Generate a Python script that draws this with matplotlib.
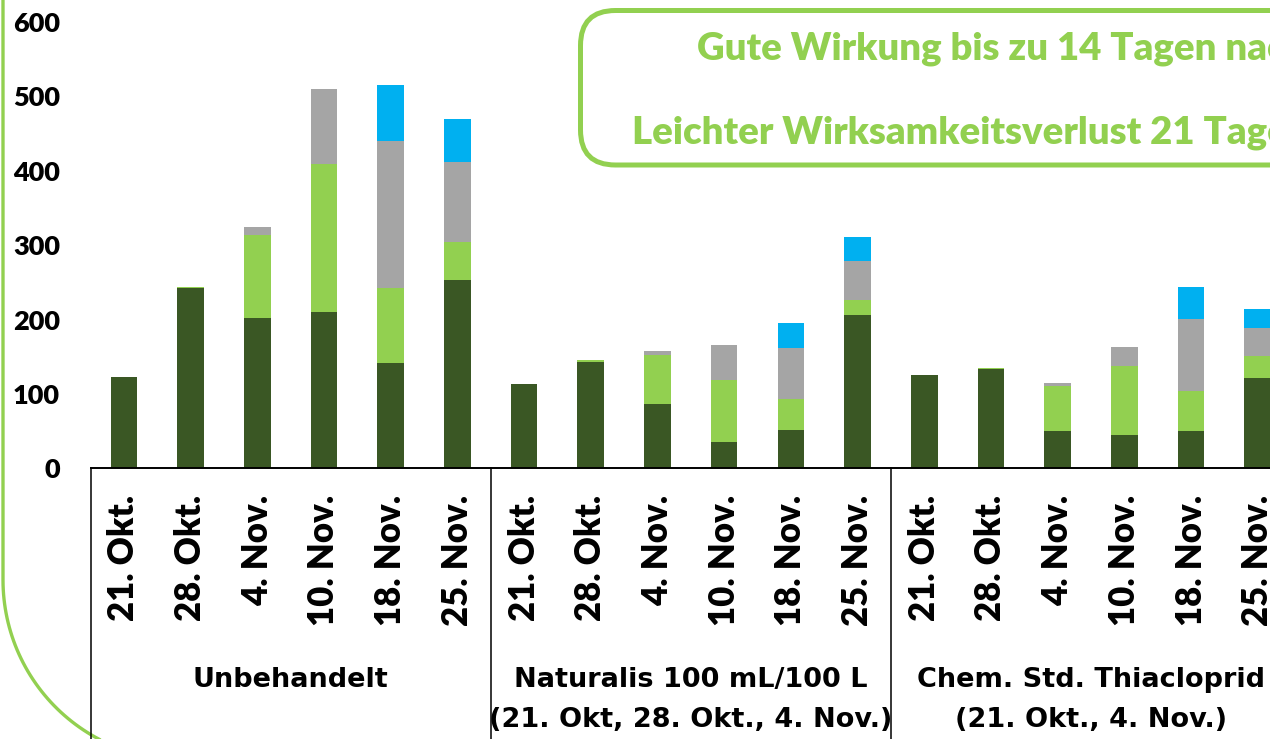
import numpy as np
import matplotlib.pyplot as plt
import matplotlib.transforms as mtransforms
from matplotlib.patches import FancyBboxPatch

# x categories: 6 sampling dates per treatment
dates = ['21. Okt.', '28. Okt.', '4. Nov.', '10. Nov.', '18. Nov.', '25. Nov.']
groups = [('Unbehandelt', ''),
          ('Naturalis 100 mL/100 L', '(21. Okt, 28. Okt., 4. Nov.)'),
          ('Chem. Std. Thiacloprid', '(21. Okt., 4. Nov.)')]

# stacked series (bottom to top)
dark_green = [123, 242, 202, 210, 142, 253,
              113, 143, 87, 36, 51.5, 206,
              126, 133.5, 50.5, 44.3, 50.5, 121.8]
light_green = [0, 1.5, 112, 199, 101, 51,
               0, 2, 65, 83, 41.6, 20.6,
               0, 1.3, 60.5, 93.2, 53.8, 29.5]
grey = [0, 0, 10, 101, 197, 108,
        0, 0, 6.3, 46.6, 69, 51.6,
        0, 0, 3.2, 25.5, 96.7, 37.7]
blue = [0, 0, 0, 0, 75, 57,
        0, 0, 0, 0, 33.2, 32.3,
        0, 0, 0, 0, 43, 25.5]

box_lines = ['Gute Wirkung bis zu 14 Tagen nach',
             'Leichter Wirksamkeitsverlust 21 Tage']

green = '#92D050'
colors = ['#3A5724', green, '#A5A5A5', '#00B0F0']

W, H = 1270, 739
fig = plt.figure(figsize=(W / 100, H / 100), dpi=100)

# background layer in pixel coordinates (slide decorations)
bg = fig.add_axes([0, 0, 1, 1], zorder=0)
bg.set_xlim(0, W)
bg.set_ylim(H, 0)
bg.axis('off')

# left slide frame: straight edge, then a big rounded corner
r = 180
t = np.linspace(0, np.pi / 2, 60)
fx = np.concatenate([[3, 3], 3 + r - r * np.cos(t)])
fy = np.concatenate([[-10, 580], 580 + r * np.sin(t)])
bg.plot(fx, fy, color=green, lw=2.4, solid_capstyle='butt')

bg.add_patch(FancyBboxPatch((580.5, 10.5), 1000, 154.5,
                            boxstyle='round,pad=0,rounding_size=35',
                            fc='white', ec=green, lw=3.6))
bg.text(697, 60, box_lines[0], color=green, fontsize=27.5, family='Lato',
        fontweight='heavy', va='baseline', ha='left')
bg.text(632, 143, box_lines[1], color=green, fontsize=27.5, family='Lato',
        fontweight='heavy', va='baseline', ha='left')

# chart
ax = fig.add_axes([90.5 / W, (H - 468.3) / H, 1200.6 / W, 446.3 / H], zorder=1)
ax.patch.set_alpha(0)
x = np.arange(len(dark_green))
bottom = np.zeros(len(x))
for vals, c in zip([dark_green, light_green, grey, blue], colors):
    ax.bar(x, vals, 0.4, bottom=bottom, color=c, linewidth=0)
    bottom += np.array(vals)

ax.set_xlim(-0.5, len(x) - 0.5)
ax.set_ylim(0, 600)
ax.set_yticks(range(0, 601, 100))
ax.set_yticklabels([str(v) for v in range(0, 601, 100)],
                   fontsize=19.5, family='Lato', fontweight='heavy')
ax.set_xticks(x)
ax.set_xticklabels(dates * 3, rotation=90, fontsize=25, family='Lato',
                   fontweight='heavy')
ax.tick_params(axis='x', length=0, pad=19)
ax.tick_params(axis='y', length=0, pad=22)
for s in ['top', 'right', 'left']:
    ax.spines[s].set_visible(False)
ax.spines['bottom'].set_linewidth(1.4)

# group separators and group labels below the axis
trans = mtransforms.blended_transform_factory(ax.transData, ax.transAxes)
for i in range(4):
    xs = i * 6 - 0.5
    ax.plot([xs, xs], [0, -0.7], transform=trans, clip_on=False,
            color='black', lw=1.1)
for i, (l1, l2) in enumerate(groups):
    xc = i * 6 + 2.5
    ax.text(xc, (468.3 - 687) / 446.3, l1, transform=trans, ha='center',
            va='baseline', fontsize=19.5, family='DejaVu Sans', fontweight='bold')
    if l2:
        ax.text(xc, (468.3 - 727) / 446.3, l2, transform=trans, ha='center',
                va='baseline', fontsize=19.5, family='DejaVu Sans',
                fontweight='bold')

fig.savefig('out.png', dpi=100)
